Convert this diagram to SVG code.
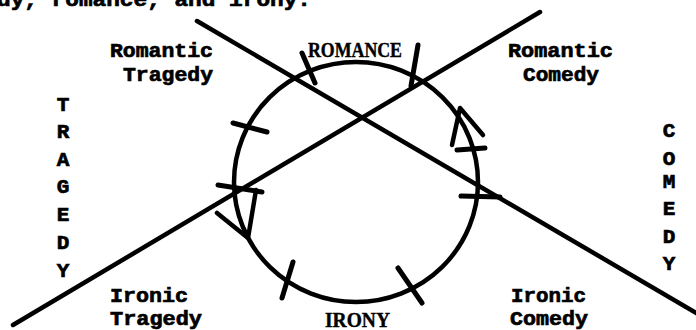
<svg xmlns="http://www.w3.org/2000/svg" width="696" height="330" viewBox="0 0 696 330">
<style>
.ln{stroke:#000;stroke-width:4.5;fill:none;stroke-linecap:round;stroke-linejoin:round}
.tk{stroke:#000;stroke-width:5;fill:none;stroke-linecap:round}
.tw{font-family:"Liberation Mono","Courier New",monospace;font-weight:bold;font-size:21px;fill:#000;stroke:#000;stroke-width:0.7}
.sf{font-family:"Liberation Serif","Times New Roman",serif;font-weight:bold;font-size:20px;fill:#000;stroke:#000;stroke-width:0.4}
.v{text-anchor:middle}
</style>
<rect width="696" height="330" fill="#fff"/>
<text class="tw" x="-3" y="6" textLength="314" lengthAdjust="spacingAndGlyphs">dy, romance, and irony.</text>
<g id="connectors">
<line class="ln" x1="197" y1="21" x2="698" y2="314"/>
<line class="ln" x1="13" y1="325" x2="540" y2="12"/>
</g>
<g id="cycle">
<ellipse class="ln" cx="356" cy="182" rx="122" ry="120"/>
<g id="ticks">
<line class="tk" x1="302" y1="53" x2="315" y2="83"/>
<line class="tk" x1="418" y1="45" x2="411" y2="86"/>
<line class="tk" x1="233" y1="123" x2="267" y2="132"/>
<line class="tk" x1="218" y1="185" x2="262" y2="192"/>
<line class="tk" x1="293" y1="262" x2="282" y2="298"/>
<line class="tk" x1="398" y1="268" x2="422" y2="303"/>
<line class="tk" x1="457" y1="150" x2="485" y2="148"/>
<line class="tk" x1="461" y1="196" x2="500" y2="197"/>
</g>
<g id="arrows">
<polyline class="ln" points="217,213 248,238 256,190"/>
<polyline class="ln" points="452,145 460,108 483,135"/>
</g>
</g>
<g id="romantic-tragedy"><text class="tw" x="110" y="57" textLength="103" lengthAdjust="spacingAndGlyphs">Romantic</text><text class="tw" x="123" y="81" textLength="90" lengthAdjust="spacingAndGlyphs">Tragedy</text></g>
<g id="romantic-comedy"><text class="tw" x="508" y="57" textLength="105" lengthAdjust="spacingAndGlyphs">Romantic</text><text class="tw" x="523" y="81" textLength="76" lengthAdjust="spacingAndGlyphs">Comedy</text></g>
<g id="ironic-tragedy"><text class="tw" x="110" y="302" textLength="78" lengthAdjust="spacingAndGlyphs">Ironic</text><text class="tw" x="110" y="325" textLength="92" lengthAdjust="spacingAndGlyphs">Tragedy</text></g>
<g id="ironic-comedy"><text class="tw" x="511" y="302" textLength="75" lengthAdjust="spacingAndGlyphs">Ironic</text><text class="tw" x="510" y="325" textLength="78" lengthAdjust="spacingAndGlyphs">Comedy</text></g>
<g id="romance"><text class="sf" x="308" y="57" textLength="94" lengthAdjust="spacingAndGlyphs">ROMANCE</text></g>
<g id="irony"><text class="sf" x="325" y="327" textLength="65" lengthAdjust="spacingAndGlyphs">IRONY</text></g>
<g id="tragedy" class="tw v"><text x="63" y="111">T</text><text x="63" y="138">R</text><text x="63" y="166">A</text><text x="63" y="193">G</text><text x="63" y="221">E</text><text x="63" y="249">D</text><text x="63" y="277">Y</text></g>
<g id="comedy" class="tw v"><text x="669" y="137">C</text><text x="669" y="165">O</text><text x="669" y="188">M</text><text x="669" y="215">E</text><text x="669" y="243">D</text><text x="669" y="270">Y</text></g>
</svg>
